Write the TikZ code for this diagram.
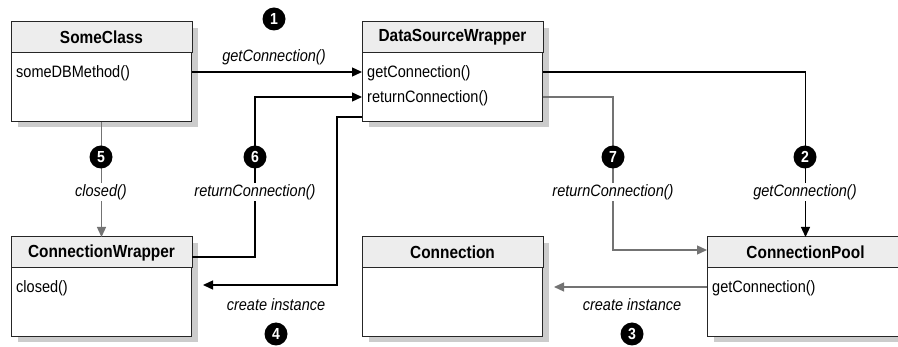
\documentclass[tikz,border=0pt]{standalone}
\usepackage{fontspec}
\setmainfont{Liberation Sans}[FakeStretch=0.88]
\usetikzlibrary{arrows.meta,calc,shadows}
\begin{document}
\begin{tikzpicture}[x=1pt,y=-1pt,
  box/.style={draw=black!85,line width=1pt,fill=white,minimum width=180pt,minimum height=99pt,inner sep=0pt,anchor=north west,
    drop shadow={shadow xshift=6pt,shadow yshift=-6pt,opacity=1,fill=black!20}},
  headfill/.style={fill=black!7,draw=black!85,line width=1pt},
  title/.style={font=\bfseries\fontsize{17.5}{20}\selectfont,inner sep=0pt},
  meth/.style={font=\fontsize{16.5}{19}\selectfont,anchor=west,inner sep=0pt},
  lab/.style={font=\itshape\fontsize{16.5}{19}\selectfont,fill=white,inner sep=1.5pt},
  num/.style={circle,fill=black,text=white,font=\bfseries\fontsize{16}{16}\selectfont,minimum size=23pt,inner sep=0pt},
  conn/.style={line width=1.3pt,-{Triangle[length=10pt,width=9pt]}},
  conng/.style={conn,draw=black!55},
]
\useasboundingbox (0,0) rectangle (898,347);

% classes
\node[box] (sc) at (11,22) {};
\draw[headfill] (sc.north west) rectangle ($(sc.north east)+(0,31)$);
\node[title] (sct) at ($(sc.north)+(0,15.5)$) {SomeClass};
\node[meth] (scm) at ($(sc.north west)+(5,51)$) {someDBMethod()};

\node[box] (dsw) at (362,22) {};
\draw[headfill] (dsw.north west) rectangle ($(dsw.north east)+(0,31)$);
\node[title] (dswt) at ($(dsw.north)+(0,15.5)$) {DataSourceWrapper};
\node[meth] (dswm1) at ($(dsw.north west)+(5,51)$) {getConnection()};
\node[meth] (dswm2) at ($(dsw.north west)+(5,76)$) {returnConnection()};

\node[box] (cw) at (11,237) {};
\draw[headfill] (cw.north west) rectangle ($(cw.north east)+(0,31)$);
\node[title] (cwt) at ($(cw.north)+(0,15.5)$) {ConnectionWrapper};
\node[meth] (cwm) at ($(cw.north west)+(5,51)$) {closed()};

\node[box] (con) at (362,237) {};
\draw[headfill] (con.north west) rectangle ($(con.north east)+(0,31)$);
\node[title] (cont) at ($(con.north)+(0,15.5)$) {Connection};

\node[box,minimum width=196pt] (pool) at (707,237) {};
\draw[headfill] (pool.north west) rectangle ($(pool.north east)+(0,31)$);
\node[title] (poolt) at ($(pool.north)+(0,15.5)$) {ConnectionPool};
\node[meth] (poolm) at ($(pool.north west)+(5,51)$) {getConnection()};

% 1
\draw[conn] ($(sc.north east)+(0,50)$) -- ($(dsw.north west)+(0,50)$);
\node[lab,fill=none] (l1) at (274,57) {getConnection()};
\node[num] (n1) at (274,19) {1};

% 2
\draw[conn] ($(dsw.north east)+(0,50)$) -| (pool.north);
\node[num] (n2) at (805,157) {2};
\node[lab] (l2) at (805,192) {getConnection()};

% 7
\draw[conng] ($(dsw.north east)+(0,75)$) -| ($(pool.north west)+(-94,13)$) -- ($(pool.north west)+(0,13)$);
\node[num] (n7) at (613,157) {7};
\node[lab] (l7) at (613,192) {returnConnection()};

% 6
\draw[conn] ($(cw.north east)+(0,20)$) -| ($(dsw.north west)+(-107,75)$) -- ($(dsw.north west)+(0,75)$);
\node[num] (n6) at (255,157) {6};
\node[lab] (l6) at (255,192) {returnConnection()};

% 5
\draw[conng] (sc.south) -- (cw.north);
\node[num] (n5) at (101,157) {5};
\node[lab] (l5) at (101,192) {closed()};

% 4
\draw[conn] ($(dsw.north west)+(0,95)$) -| ($(cw.north east)+(145,48)$) -- ($(cw.north east)+(11,48)$);
\node[lab,fill=none] (l4) at (276,305) {create instance};
\node[num] (n4) at (276,334) {4};

% 3
\draw[conng] ($(pool.north west)+(0,50)$) -- ($(con.north east)+(11,50)$);
\node[lab,fill=none] (l3) at (632,305) {create instance};
\node[num] (n3) at (632,334) {3};
\end{tikzpicture}
\end{document}
